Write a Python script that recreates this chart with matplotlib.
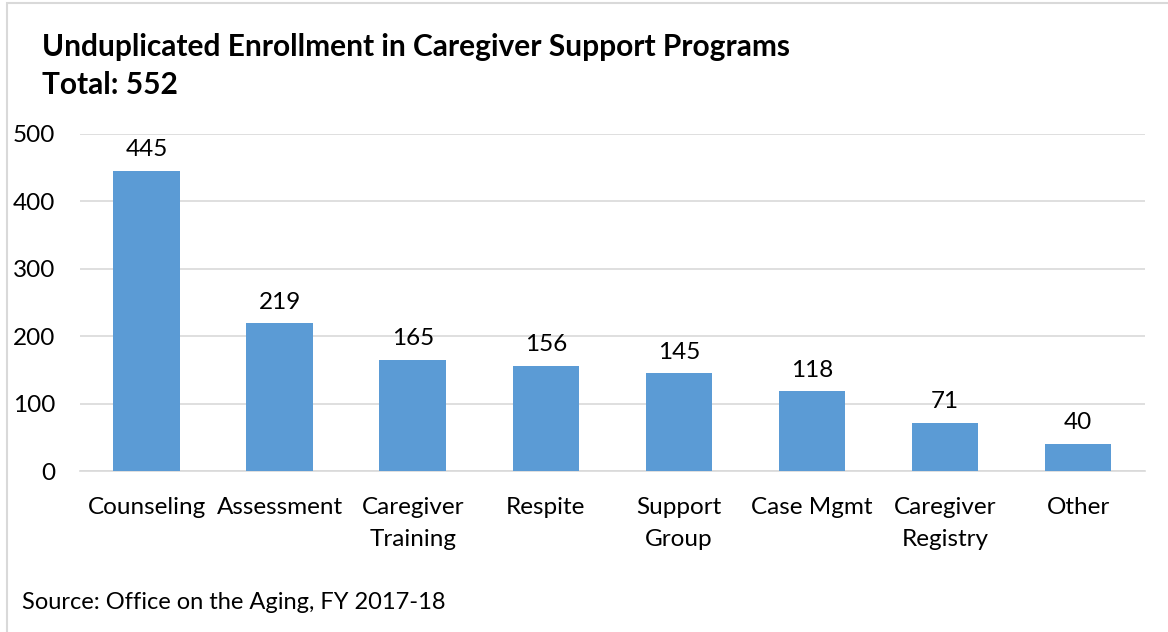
import matplotlib.pyplot as plt
import numpy as np

categories = ['Counseling', 'Assessment', 'Caregiver\nTraining', 'Respite',
              'Support\nGroup', 'Case Mgmt', 'Caregiver\nRegistry', 'Other']
enrollment = [445, 219, 165, 156, 145, 118, 71, 40]
y_ticks = [0, 100, 200, 300, 400, 500]

plt.rcParams['font.family'] = ['Lato', 'DejaVu Sans']

fig = plt.figure(figsize=(11.68, 6.32), dpi=100)
ax = fig.add_axes([0.0685, 0.2547, 0.9115, 0.5333])

x = np.arange(len(categories))
bars = ax.bar(x, enrollment, width=0.5, color='#5B9BD5', zorder=3)
for b, v in zip(bars, enrollment):
    ax.text(b.get_x() + b.get_width() / 2, v + 16, str(v), ha='center', va='bottom',
            fontsize=17.5, color='#000000')

ax.set_xlim(-0.5, len(categories) - 0.5)
ax.set_ylim(0, 500)
ax.set_yticks(y_ticks)
ax.set_yticklabels([str(t) for t in y_ticks], fontsize=17.5)
ax.set_xticks(x)
ax.set_xticklabels(categories, fontsize=17.5, linespacing=1.65)
ax.tick_params(axis='both', length=0, colors='#000000')
ax.tick_params(axis='y', pad=18)
ax.tick_params(axis='x', pad=19)
ax.yaxis.grid(True, color='#D9D9D9', linewidth=1.2, zorder=0)
for s in ['top', 'right', 'left']:
    ax.spines[s].set_visible(False)
ax.spines['bottom'].set_color('#D9D9D9')
ax.spines['bottom'].set_linewidth(1.2)

fig.text(0.036, 0.925, 'Unduplicated Enrollment in Caregiver Support Programs',
         fontsize=21.5, fontweight='bold', va='center')
fig.text(0.036, 0.865, 'Total: 552', fontsize=21.5, fontweight='bold', va='center')
fig.text(0.019, 0.047, 'Source: Office on the Aging, FY 2017-18', fontsize=17, va='center')

border = plt.Rectangle((0.006, -0.02), 1.1, 1.015, transform=fig.transFigure,
                       fill=False, edgecolor='#D9D9D9', linewidth=1.5)
fig.patches.append(border)

fig.savefig('out.png', dpi=100)
